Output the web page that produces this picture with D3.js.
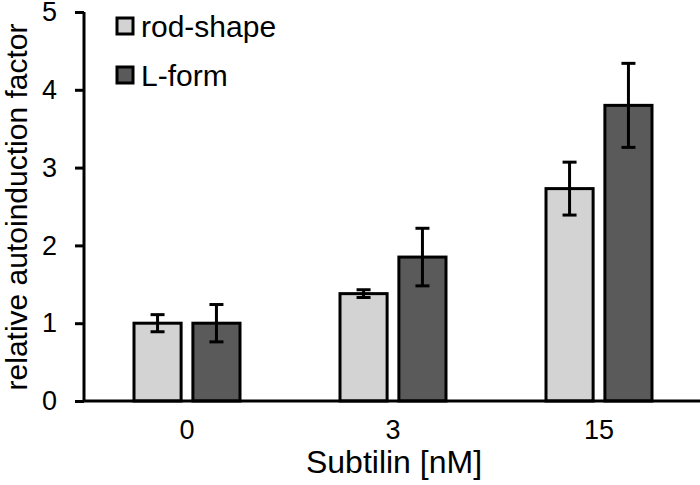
<!DOCTYPE html>
<meta charset="utf-8">
<style>
  body { margin: 0; background: #fff; }
  text { font-family: "Liberation Sans", Arial, sans-serif; fill: #000; }
</style>
<svg width="700" height="485"></svg>
<script src="https://d3js.org/d3.v7.min.js"></script>
<script>
var groups = ["0", "3", "15"];
var seriesNames = ["rod-shape", "L-form"];
var rodValues = [1.0, 1.38, 2.73];
var rodErrors = [0.11, 0.05, 0.34];
var lformValues = [1.0, 1.85, 3.80];
var lformErrors = [0.24, 0.37, 0.54];
var yTicks = [0, 1, 2, 3, 4, 5];
var colors = ["#d3d3d3", "#5a5a5a"];

var svg = d3.select("svg"),
    margin = {left: 84, right: 0, top: 12, bottom: 84},
    width = +svg.attr("width"),
    height = +svg.attr("height");

var x = d3.scaleBand().domain(groups)
    .range([margin.left, 702]).paddingInner(0).paddingOuter(0);
var xs = d3.scaleBand().domain(seriesNames)
    .range([0, 106]).paddingInner(0.2);
var y = d3.scaleLinear().domain([0, 5]).range([401, margin.top]);

var series = [
  {name: seriesNames[0], values: rodValues, errors: rodErrors, color: colors[0]},
  {name: seriesNames[1], values: lformValues, errors: lformErrors, color: colors[1]}
];

// bars
series.forEach(function(s) {
  var g = svg.append("g");
  var data = groups.map(function(k, i) { return {g: k, v: s.values[i], e: s.errors[i]}; });
  g.selectAll("rect").data(data).enter().append("rect")
    .attr("x", function(d) { return x(d.g) + x.bandwidth() / 2 - 53 + xs(s.name); })
    .attr("y", function(d) { return y(d.v); })
    .attr("width", xs.bandwidth())
    .attr("height", function(d) { return y(0) - y(d.v); })
    .attr("fill", s.color)
    .attr("stroke", "#000")
    .attr("stroke-width", 3);

  // error bars
  var eb = g.selectAll(".err").data(data).enter().append("g");
  eb.each(function(d) {
    var cx = x(d.g) + x.bandwidth() / 2 - 53 + xs(s.name) + xs.bandwidth() / 2;
    var el = d3.select(this);
    el.append("line").attr("x1", cx).attr("x2", cx)
      .attr("y1", y(d.v + d.e)).attr("y2", y(d.v - d.e));
    el.append("line").attr("x1", cx - 7).attr("x2", cx + 7)
      .attr("y1", y(d.v + d.e)).attr("y2", y(d.v + d.e));
    el.append("line").attr("x1", cx - 7).attr("x2", cx + 7)
      .attr("y1", y(d.v - d.e)).attr("y2", y(d.v - d.e));
  });
  eb.selectAll("line").attr("stroke", "#000").attr("stroke-width", 3);
});

// y axis
var yAxis = svg.append("g")
  .attr("transform", "translate(" + margin.left + ",0)")
  .call(d3.axisLeft(y).tickValues(yTicks).tickSize(9).tickPadding(18).tickFormat(d3.format("d")));
yAxis.select(".domain").attr("stroke-width", 3).attr("d", "M0," + y(5) + "V" + y(0));
yAxis.selectAll(".tick line").attr("stroke-width", 3);
yAxis.selectAll(".tick text").style("font-size", "27px").attr("font-family", null);

// x axis
var xAxis = svg.append("g")
  .attr("transform", "translate(0," + y(0) + ")")
  .call(d3.axisBottom(x).tickSize(0).tickPadding(19));
xAxis.select(".domain").attr("stroke-width", 3).attr("d", "M" + margin.left + ",0H" + width);
xAxis.selectAll(".tick text").style("font-size", "27px").attr("font-family", null);

// axis titles
svg.append("text")
  .attr("x", 394).attr("y", 473)
  .attr("text-anchor", "middle")
  .style("font-size", "32px")
  .text("Subtilin [nM]");
svg.append("text")
  .attr("transform", "translate(27,207) rotate(-90)")
  .attr("text-anchor", "middle")
  .style("font-size", "30px")
  .text("relative autoinduction factor");

// legend
var legend = svg.append("g");
series.forEach(function(s, i) {
  var ly = 26 + i * 49;
  legend.append("rect")
    .attr("x", 117).attr("y", ly - 8)
    .attr("width", 16).attr("height", 16)
    .attr("fill", s.color).attr("stroke", "#000").attr("stroke-width", 3);
  legend.append("text")
    .attr("x", 141).attr("y", ly + 11)
    .style("font-size", "30px")
    .text(s.name);
});
</script>
